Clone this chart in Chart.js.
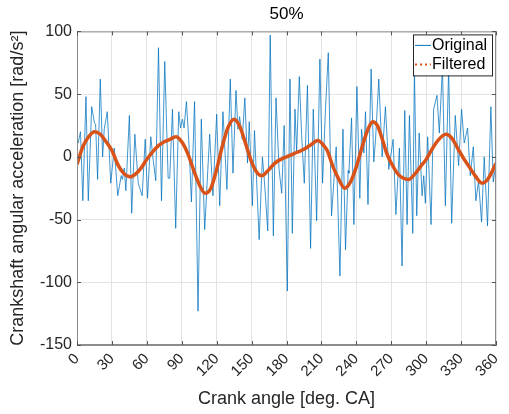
<!DOCTYPE html>
<html>
<head>
<meta charset="utf-8">
<script src="https://cdn.jsdelivr.net/npm/chart.js@4.4.0/dist/chart.umd.min.js"></script>
<style>
  body { margin: 0; background: #ffffff; }
</style>
</head>
<body>
<canvas id="grafico" width="509" height="414"></canvas>
<script>
// valores (angulo em graus, aceleracao em rad/s2)
const angulo_original = [0, 1, 3, 5, 7.7, 9.7, 12.6, 15, 16, 17.7, 20, 22, 23.4, 26, 29, 32, 35, 38, 39, 40.6, 42, 45, 47, 49.7, 52.6, 56, 58.6, 60.6, 63.4, 65.4, 67.7, 70, 72.6, 75.4, 78.3, 79.7, 82, 84.8, 87.4, 89, 90.6, 92, 94, 96, 98.3, 101, 104, 106.8, 109.7, 114, 116.8, 120, 122.6, 125.4, 128.8, 131.7, 134, 136.6, 138.3, 139.7, 142, 144.2, 146.5, 148, 150.7, 152.5, 156.5, 159.3, 161, 163.9, 166, 168.7, 171, 173.6, 175.9, 178, 180.7, 183, 185, 187.3, 188.7, 191, 193, 195.3, 198, 200.7, 203, 205.9, 208.7, 211, 213.3, 215.9, 218.7, 222.7, 225.9, 228.5, 230.7, 233, 233.6, 235.9, 237.9, 240.5, 243, 244.5, 246.5, 247.9, 250, 252.7, 255, 256.5, 259.3, 262.2, 265, 267.9, 271.6, 274, 277, 279.3, 281.6, 283.6, 285.6, 288.5, 289.9, 291.9, 294, 296.5, 297.9, 299.3, 301.3, 304.2, 306.4, 309.3, 311.3, 314, 316.5, 319.3, 321.9, 325, 327.9, 330.4, 332.7, 335.6, 337.9, 340.5, 342.7, 345, 347.6, 349.9, 352.7, 355.6, 357.6, 360];
const valor_original = [13, 11, 20, -35, 48, -35, 40, 27, 26, -18, 62, 0, 22, 36, -21, 7, -31, -15, -18, -9, -27, 33, -45, 18, -21, -31, 14, -33, 16, -2, -19, 87, -35, 76, -17, -17, 38, -57, 36, 23, 30, 23, 44, 14, -36, 44, -123, 30, -58, 18, -31, 34, -39, 36, -26, 62, -13, 53, 22, 32, 14, 47, -5, 28, -39, 21, -66, 0, -19, -59, 97, -63, 47, -10, -29, 25, -107, 62, -61, 38, 4, 64, 17, -21, 57, -73, 38, -51, 78, -21, 34, 83, -47, 8, -95, 22, -74, -11, -13, 31, -54, 56, -33, 22, 3, 36, -38, 70, -4, 14, 62, 0, 40, -10, 14, -46, 7, -87, 37, -54, 33, -61, 72, -47, 19, -31, -15, -37, 16, -54, 38, 49, 19, 72, -39, 70, -53, 33, -7, 38, 11, 23, -15, 8, -35, -19, -52, 0, -55, 40, -20, -5];

const angulo_filtrado = [0, 5, 10, 15, 20, 25, 30, 35, 40, 46, 50, 55, 60, 65, 70, 75, 80, 85, 90, 95, 100, 105, 110, 115, 120, 125, 130, 135, 140, 145, 150, 155, 159, 165, 170, 175, 180, 185, 190, 195, 200, 207, 212, 215, 220, 225, 230, 235, 240, 245, 250, 254, 258, 262, 266, 270, 276, 285, 290, 295, 300, 305, 310, 317, 322, 327, 332, 337, 342, 348, 352, 356, 360];
const valor_filtrado = [-6, 8, 16, 20, 18, 12, 5, -6, -13, -16, -14, -9, -2, 4, 9, 12, 14, 16, 12, 3, -10, -22, -29, -25, -10, 9, 24, 30, 24, 10, -4, -13, -15, -10, -5, -2, 0, 2, 4, 6, 9, 13, 9, 5, -8, -18, -25, -20, -8, 8, 22, 28, 25, 15, 3, -5, -14, -18, -14, -8, -2, 6, 13, 18, 15, 7, -1, -8, -15, -21, -19, -13, -5];

const ticks_x = [0, 30, 60, 90, 120, 150, 180, 210, 240, 270, 300, 330, 360];
const ticks_y = [-150, -100, -50, 0, 50, 100];

const cor_original = '#0072BD';
const cor_filtrado = '#D95319';
const cor_texto = '#262626';
const fonte = 'Liberation Sans, Arial, sans-serif';

function montarPontos(xs, ys) {
    var pontos = [];
    for (var i = 0; i < xs.length; i++) {
        pontos.push({ x: xs[i], y: ys[i] });
    }
    return pontos;
}

// caixa do eixo, ticks para dentro e legenda no canto (estilo MATLAB)
const estiloMatlab = {
    id: 'estiloMatlab',
    afterDraw(chart) {
        const ctx = chart.ctx;
        const a = chart.chartArea;
        const sx = chart.scales.x;
        const sy = chart.scales.y;
        ctx.save();
        ctx.strokeStyle = '#8c8c8c';
        ctx.lineWidth = 1;
        ctx.strokeRect(a.left + 0.5, a.top + 0.5, a.right - a.left - 1, a.bottom - a.top - 1);
        ctx.strokeStyle = '#555555';
        ctx.beginPath();
        ticks_x.forEach(function (t) {
            var px = Math.round(sx.getPixelForValue(t)) + 0.5;
            ctx.moveTo(px, a.bottom); ctx.lineTo(px, a.bottom - 4);
            ctx.moveTo(px, a.top); ctx.lineTo(px, a.top + 4);
        });
        ticks_y.forEach(function (t) {
            var py = Math.round(sy.getPixelForValue(t)) + 0.5;
            ctx.moveTo(a.left, py); ctx.lineTo(a.left + 4, py);
            ctx.moveTo(a.right, py); ctx.lineTo(a.right - 4, py);
        });
        ctx.stroke();

        // legenda
        var lx = a.right - 83, ly = a.top + 3, lw = 79, lh = 41;
        ctx.fillStyle = '#ffffff';
        ctx.fillRect(lx, ly, lw, lh);
        ctx.strokeStyle = '#262626';
        ctx.lineWidth = 1;
        ctx.strokeRect(lx + 0.5, ly + 0.5, lw, lh);
        ctx.strokeStyle = cor_original;
        ctx.lineWidth = 1;
        ctx.beginPath();
        ctx.moveTo(lx + 2, ly + 11); ctx.lineTo(lx + 18, ly + 11);
        ctx.stroke();
        ctx.strokeStyle = cor_filtrado;
        ctx.lineWidth = 2;
        ctx.setLineDash([2, 3]);
        ctx.beginPath();
        ctx.moveTo(lx + 2, ly + 30); ctx.lineTo(lx + 18, ly + 30);
        ctx.stroke();
        ctx.setLineDash([]);
        ctx.fillStyle = '#000000';
        ctx.font = '16px ' + fonte;
        ctx.textBaseline = 'middle';
        ctx.fillText('Original', lx + 19, ly + 11);
        ctx.fillText('Filtered', lx + 19, ly + 30);
        ctx.restore();
    }
};

const canvas_grafico = document.getElementById('grafico');

const config_grafico = {
    type: 'line',
    data: {
        datasets: [{
            label: 'Original',
            data: montarPontos(angulo_original, valor_original),
            borderColor: cor_original,
            borderWidth: 0.75,
            pointRadius: 0,
            tension: 0,
            order: 1
        }, {
            label: 'Filtered',
            data: montarPontos(angulo_filtrado, valor_filtrado),
            borderColor: cor_filtrado,
            borderWidth: 3.5,
            pointRadius: 0,
            cubicInterpolationMode: 'monotone',
            order: 0
        }]
    },
    options: {
        responsive: false,
        animation: false,
        layout: { padding: { left: 0, right: 13, top: 0, bottom: 0 } },
        scales: {
            x: {
                type: 'linear',
                min: 0,
                max: 360,
                afterBuildTicks: function (s) { s.ticks = ticks_x.map(function (v) { return { value: v }; }); },
                afterFit: function (s) { s.height = 69; s.paddingRight = 0; },
                ticks: {
                    minRotation: 45,
                    maxRotation: 45,
                    padding: 5,
                    color: cor_texto,
                    font: { size: 15, family: fonte }
                },
                grid: { color: '#e3e3e3', tickLength: 0 },
                border: { color: '#8c8c8c' },
                title: {
                    display: true,
                    text: 'Crank angle [deg. CA]',
                    color: cor_texto,
                    padding: { top: 0, bottom: 4 },
                    font: { size: 18, family: fonte }
                }
            },
            y: {
                min: -150,
                max: 100,
                afterBuildTicks: function (s) { s.ticks = ticks_y.map(function (v) { return { value: v }; }); },
                afterFit: function (s) { s.width = 77; },
                ticks: {
                    padding: 5,
                    color: cor_texto,
                    font: { size: 16, family: fonte }
                },
                grid: { color: '#e3e3e3', tickLength: 0 },
                border: { color: '#8c8c8c' },
                title: {
                    display: true,
                    text: 'Crankshaft angular acceleration [rad/s²]',
                    color: cor_texto,
                    padding: { top: 7, bottom: 0 },
                    font: { size: 18, family: fonte }
                }
            }
        },
        plugins: {
            legend: { display: false },
            tooltip: { enabled: false },
            title: {
                display: true,
                fullSize: false,
                text: '50%',
                color: '#000000',
                padding: { top: 4, bottom: 7 },
                font: { size: 17, weight: 'normal', family: fonte }
            }
        }
    },
    plugins: [estiloMatlab]
};

const grafico = new Chart(canvas_grafico, config_grafico);
</script>
</body>
</html>
